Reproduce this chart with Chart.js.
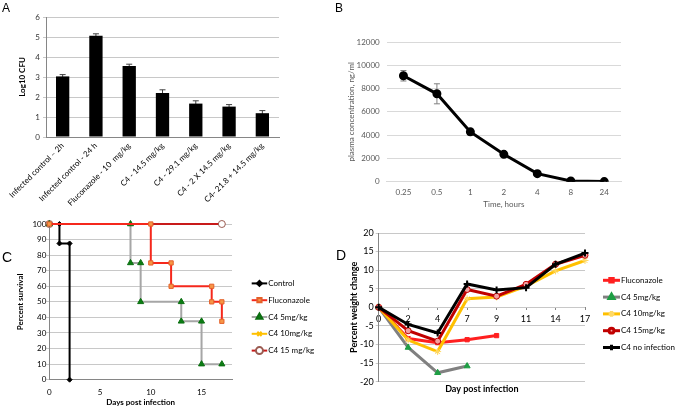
<!DOCTYPE html>
<html>
<head>
<meta charset="utf-8">
<script src="https://cdn.jsdelivr.net/npm/chart.js@4.4.1/dist/chart.umd.min.js"></script>
<style>
  body { margin: 0; background: #fff; width: 675px; height: 409px; position: relative; overflow: hidden; }
  canvas { position: absolute; }
  .letter { position: absolute; font-family: "Liberation Sans", Arial, sans-serif; color: #000; line-height: 1; }
</style>
</head>
<body>
<canvas id="cA" width="340" height="210" style="left:0;top:0"></canvas>
<canvas id="cB" width="335" height="210" style="left:340px;top:0"></canvas>
<canvas id="cC" width="340" height="204" style="left:0;top:205px"></canvas>
<canvas id="cD" width="340" height="204" style="left:335px;top:205px"></canvas>
<div class="letter" style="left:2px;top:2px;font-size:12px">A</div>
<div class="letter" style="left:335px;top:2px;font-size:12px">B</div>
<div class="letter" style="left:2px;top:250px;font-size:14px">C</div>
<div class="letter" style="left:336px;top:248px;font-size:14px">D</div>
<script>
// Panel A - fungal burden
const cfuGroups = ['Infected control \u2013 2h', 'Infected control - 24 h', 'Fluconazole - 10  mg/kg',
  'C4 - 14.5 mg/kg', 'C4 - 29.1 mg/kg', 'C4 - 2 X 14.5 mg/kg', 'C4- 21.8 + 14.5 mg/kg'];
const cfuMeans = [3.03, 5.06, 3.55, 2.2, 1.67, 1.52, 1.19];
const cfuErrors = [0.09, 0.1, 0.09, 0.16, 0.14, 0.1, 0.13];

// Panel B - plasma concentration
const timeLabels = ['0.25', '0.5', '1', '2', '4', '8', '24'];
const plasmaMeans = [9100, 7550, 4280, 2350, 690, 60, 10];
const plasmaErrors = [450, 860, 280, 100, 150, 0, 0];

// Panel C - survival (step curves, days / percent)
const controlDays = [0, 1, 1, 2, 2];
const controlSurv = [100, 100, 87.5, 87.5, 0];
const flucoDays = [0, 10, 10, 12, 12, 16, 16, 17, 17];
const flucoSurv = [100, 100, 75, 75, 60, 60, 50, 50, 37.5];
const c4lowDays = [0, 8, 8, 9, 9, 13, 13, 15, 15, 17];
const c4lowSurv = [100, 100, 75, 75, 50, 50, 37.5, 37.5, 10, 10];
const c4midDays = [0, 17];
const c4midSurv = [100, 100];
const c4highDays = [0, 17];
const c4highSurv = [100, 100];

// Panel D - weight change
const dayLabels = ['0', '2', '4', '7', '9', '11', '14', '17'];
const wFluco = [0, -8.4, -9.5, -8.7, -7.6, null, null, null];
const wC4low = [0, -10.8, -17.6, -15.8, null, null, null, null];
const wC4mid = [0, -8.8, -11.9, 2.3, 2.8, 5.7, 9.8, 12.6];
const wC4high = [0, -6.3, -9.1, 4.8, 3.0, 6.2, 11.6, 14.0];
const wNoInf = [0, -4.6, -6.9, 6.3, 4.7, 5.3, 11.6, 14.6];

Chart.defaults.font.family = 'Lato, "Open Sans", sans-serif';
Chart.defaults.font.size = 8;
Chart.defaults.color = '#000';

const toPoints = (xs, ys) => xs.map((x, i) => ({ x: x, y: ys[i] }));

// error bars drawn behind the marks
const errorBars = {
  id: 'errorBars',
  beforeDatasetsDraw(chart, args, opts) {
    const { ctx } = chart;
    const yScale = chart.scales.y;
    chart.data.datasets.forEach((ds, i) => {
      if (!ds.errors) return;
      chart.getDatasetMeta(i).data.forEach((el, j) => {
        const v = ds.data[j], e = ds.errors[j];
        if (v == null || !e) return;
        const top = yScale.getPixelForValue(v + e);
        const bot = yScale.getPixelForValue(v - e);
        ctx.save();
        ctx.strokeStyle = opts.color;
        ctx.lineWidth = opts.width || 1;
        ctx.beginPath();
        ctx.moveTo(el.x, top); ctx.lineTo(el.x, bot);
        ctx.moveTo(el.x - opts.cap, top); ctx.lineTo(el.x + opts.cap, top);
        ctx.moveTo(el.x - opts.cap, bot); ctx.lineTo(el.x + opts.cap, bot);
        ctx.stroke();
        ctx.restore();
      });
    });
  }
};

// Excel-like legend: short line with the marker on it
const sideLegend = {
  id: 'sideLegend',
  afterDraw(chart, args, opts) {
    const { ctx, chartArea } = chart;
    const x0 = chartArea.right + opts.dx;
    chart.data.datasets.forEach((ds, i) => {
      const y = chartArea.top + opts.dy + i * opts.gap;
      ctx.save();
      ctx.strokeStyle = ds.borderColor;
      ctx.lineWidth = ds.borderWidth;
      ctx.beginPath();
      ctx.moveTo(x0, y);
      ctx.lineTo(x0 + opts.len, y);
      ctx.stroke();
      ctx.fillStyle = ds.pointBackgroundColor;
      ctx.strokeStyle = ds.pointBorderColor;
      Chart.helpers.drawPoint(ctx, {
        pointStyle: ds.pointStyle, radius: ds.pointRadius * (opts.markerScale || 1),
        borderWidth: ds.pointBorderWidth, rotation: 0
      }, x0 + opts.len / 2, y);
      ctx.fillStyle = '#000';
      ctx.font = opts.size + 'px Lato, "Open Sans", sans-serif';
      ctx.textBaseline = 'middle';
      ctx.fillText(ds.label, x0 + opts.len + 1, y);
      ctx.restore();
    });
  }
};

// A
new Chart(document.getElementById('cA'), {
  type: 'bar',
  data: {
    labels: cfuGroups,
    datasets: [{
      data: cfuMeans, errors: cfuErrors, backgroundColor: '#000',
      barPercentage: 0.4, categoryPercentage: 1
    }]
  },
  options: {
    responsive: false,
    animation: false,
    layout: { padding: { top: 17, right: 61, left: 0, bottom: 0 } },
    plugins: {
      legend: { display: false },
      tooltip: { enabled: false },
      errorBars: { color: '#404040', cap: 3 }
    },
    scales: {
      x: {
        grid: { drawOnChartArea: false, drawTicks: false },
        border: { color: '#868686' },
        ticks: { minRotation: 45, maxRotation: 45, autoSkip: false, padding: 4 },
        afterFit(s) { s.height = 73; s.paddingLeft = 0; s.paddingRight = 0; }
      },
      y: {
        min: 0, max: 6,
        ticks: { stepSize: 1, padding: 3, color: '#333' },
        grid: { color: '#c8c8c8', tickLength: 3 },
        border: { color: '#868686' },
        title: { display: true, text: 'Log10 CFU', font: { weight: 'bold' }, padding: { top: 18, bottom: 0 } },
        afterFit(s) { s.width = 46; }
      }
    }
  },
  plugins: [errorBars]
});

// B
new Chart(document.getElementById('cB'), {
  type: 'line',
  data: {
    labels: timeLabels,
    datasets: [{
      data: plasmaMeans, errors: plasmaErrors, borderColor: '#000', borderWidth: 3,
      pointRadius: 3, pointBackgroundColor: '#000', pointBorderColor: '#000', tension: 0
    }]
  },
  options: {
    responsive: false,
    animation: false,
    layout: { padding: { top: 42, right: 54, left: 0, bottom: 0 } },
    plugins: {
      legend: { display: false },
      tooltip: { enabled: false },
      errorBars: { color: '#7f7f7f', cap: 3 }
    },
    scales: {
      x: {
        offset: true,
        grid: { drawOnChartArea: false, drawTicks: false },
        border: { color: '#d9d9d9' },
        ticks: { color: '#595959', padding: 6 },
        title: { display: true, text: 'Time, hours', color: '#595959', padding: { top: 0, bottom: 1 } },
        afterFit(s) { s.height = 28.3; s.paddingLeft = 0; s.paddingRight = 0; }
      },
      y: {
        min: 0, max: 12000,
        ticks: { stepSize: 2000, color: '#595959', padding: 7, callback: v => String(v) },
        grid: { color: '#d9d9d9', drawTicks: false },
        border: { display: false },
        title: { display: true, text: 'plasma concentration, ng/ml', color: '#595959', padding: { top: 7, bottom: 0 } },
        afterFit(s) { s.width = 46.7; }
      }
    }
  },
  plugins: [errorBars]
});

// C
new Chart(document.getElementById('cC'), {
  type: 'scatter',
  data: {
    datasets: [
      { label: 'Control', data: toPoints(controlDays, controlSurv), order: 3,
        borderColor: '#000', borderWidth: 2, pointStyle: 'rectRot', pointRadius: 2.5,
        pointBackgroundColor: '#000', pointBorderColor: '#000', pointBorderWidth: 1 },
      { label: 'Fluconazole', data: toPoints(flucoDays, flucoSurv), order: 1,
        borderColor: '#f5281c', borderWidth: 2, pointStyle: 'rect', pointRadius: 3,
        pointBackgroundColor: '#f79646', pointBorderColor: '#e4602a', pointBorderWidth: 1 },
      { label: 'C4 5mg/kg', data: toPoints(c4lowDays, c4lowSurv), order: 2,
        borderColor: '#a6a6a6', borderWidth: 2, pointStyle: 'triangle', pointRadius: 3.5,
        pointBackgroundColor: '#0a7d12', pointBorderColor: '#0a6d10', pointBorderWidth: 1 },
      { label: 'C4 10mg/kg', data: toPoints(c4midDays, c4midSurv), order: 5,
        borderColor: '#ffc000', borderWidth: 2, pointStyle: 'crossRot', pointRadius: 3,
        pointBackgroundColor: '#ffc000', pointBorderColor: '#ffc000', pointBorderWidth: 1 },
      { label: 'C4 15 mg/kg', data: toPoints(c4highDays, c4highSurv), order: 4,
        borderColor: '#c81a1a', borderWidth: 2, pointStyle: 'circle', pointRadius: 3.5,
        pointBackgroundColor: '#fff', pointBorderColor: '#9a5a50', pointBorderWidth: 1 }
    ]
  },
  options: {
    responsive: false,
    animation: false,
    layout: { padding: { top: 19, right: 108, left: 0, bottom: 0 } },
    datasets: { scatter: { showLine: true, clip: false } },
    plugins: {
      legend: { display: false },
      tooltip: { enabled: false },
      sideLegend: { dx: 19.7, dy: 59.4, gap: 16.8, len: 15.5, size: 8 }
    },
    scales: {
      x: {
        type: 'linear', min: 0, max: 18,
        afterBuildTicks(s) { s.ticks = s.ticks.filter(t => t.value % 5 === 0); },
        grid: { drawOnChartArea: false, drawTicks: false },
        border: { color: '#868686' },
        ticks: { stepSize: 5, padding: 8 },
        title: { display: true, text: 'Days post infection', font: { weight: 'bold' }, padding: { top: 0, bottom: 1.5 } },
        afterFit(s) { s.height = 29.3; s.paddingLeft = 0; s.paddingRight = 0; }
      },
      y: {
        min: 0, max: 100,
        ticks: { stepSize: 10, padding: 0 },
        grid: { color: '#c8c8c8', tickLength: 3 },
        border: { color: '#868686' },
        title: { display: true, text: 'Percent survival', font: { weight: 'bold' }, padding: { top: 16, bottom: 0 } },
        afterFit(s) { s.width = 49.3; }
      }
    }
  },
  plugins: [sideLegend]
});

// D
new Chart(document.getElementById('cD'), {
  type: 'line',
  data: {
    labels: dayLabels,
    datasets: [
      { label: 'Fluconazole', data: wFluco, order: 3,
        borderColor: '#ff1f1f', borderWidth: 3, pointStyle: 'rect', pointRadius: 3,
        pointBackgroundColor: '#ff1f1f', pointBorderColor: '#ff1f1f', pointBorderWidth: 1 },
      { label: 'C4 5mg/kg', data: wC4low, order: 4,
        borderColor: '#808080', borderWidth: 3, pointStyle: 'triangle', pointRadius: 3.5,
        pointBackgroundColor: '#1e9e44', pointBorderColor: '#1e9e44', pointBorderWidth: 1 },
      { label: 'C4 10mg/kg', data: wC4mid, order: 2,
        borderColor: '#ffc000', borderWidth: 3, pointStyle: 'star', pointRadius: 3.5,
        pointBackgroundColor: '#ffc000', pointBorderColor: '#ffd966', pointBorderWidth: 1 },
      { label: 'C4 15mg/kg', data: wC4high, order: 1,
        borderColor: '#c00000', borderWidth: 3, pointStyle: 'circle', pointRadius: 3,
        pointBackgroundColor: '#f4a0a0', pointBorderColor: '#c00000', pointBorderWidth: 1 },
      { label: 'C4 no infection', data: wNoInf, order: 0,
        borderColor: '#000', borderWidth: 3, pointStyle: 'cross', pointRadius: 3.5,
        pointBackgroundColor: '#000', pointBorderColor: '#000', pointBorderWidth: 2 }
    ]
  },
  options: {
    responsive: false,
    animation: false,
    layout: { padding: { top: 28, right: 90, left: 0, bottom: 0 } },
    datasets: { line: { tension: 0, clip: false, spanGaps: false } },
    plugins: {
      legend: { display: false },
      tooltip: { enabled: false },
      sideLegend: { dx: 18, dy: 47.3, gap: 16.8, len: 17, size: 8, markerScale: 0.8 }
    },
    scales: {
      x: {
        offset: false,
        ticks: { display: false },
        grid: { display: false },
        border: { display: false },
        title: { display: true, text: 'Day post infection', font: { size: 9, weight: 'bold' }, padding: { top: 0, bottom: 15 } },
        afterFit(s) { s.height = 27.3; s.paddingLeft = 0; s.paddingRight = 0; }
      },
      x2: {
        type: 'category', axis: 'x', labels: dayLabels, offset: false,
        position: { y: 0 },
        grid: { drawOnChartArea: false, tickLength: 3, color: '#868686' },
        border: { display: false },
        ticks: { font: { size: 9 }, padding: 3 }
      },
      y: {
        min: -20, max: 20,
        ticks: { stepSize: 5, font: { size: 9 }, padding: 2 },
        grid: { color: '#c8c8c8', tickLength: 3 },
        border: { color: '#868686' },
        title: { display: true, text: 'Percent weight change', font: { size: 9, weight: 'bold' }, padding: { top: 13.6, bottom: 0 } },
        afterFit(s) { s.width = 43.7; }
      }
    }
  },
  plugins: [sideLegend]
});
</script>
</body>
</html>
